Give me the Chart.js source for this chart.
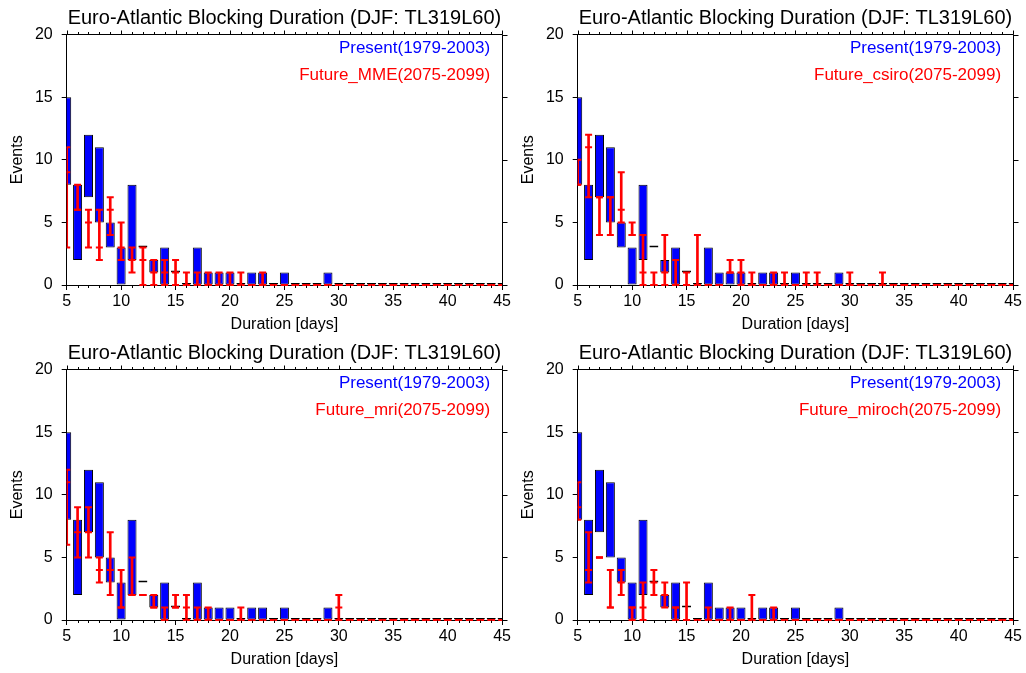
<!DOCTYPE html>
<html>
<head>
<meta charset="utf-8">
<script src="https://cdn.jsdelivr.net/npm/chart.js@4.4.1/dist/chart.umd.min.js"></script>
<style>
  body { margin: 0; background: #fff; }
  #wrap { position: relative; width: 1026px; height: 673px; }
  canvas { position: absolute; }
</style>
</head>
<body>
<div id="wrap">
  <canvas id="p1" width="513" height="336" style="left:0;top:0"></canvas>
  <canvas id="p2" width="513" height="336" style="left:511px;top:0"></canvas>
  <canvas id="p3" width="513" height="336" style="left:0;top:335px"></canvas>
  <canvas id="p4" width="513" height="336" style="left:511px;top:335px"></canvas>
</div>
<script>
// durations 5..45 days
const durations = [5,6,7,8,9,10,11,12,13,14,15,16,17,18,19,20,21,22,23,24,25,
                   26,27,28,29,30,31,32,33,34,35,36,37,38,39,40,41,42,43,44,45];
const xTicks = [5,10,15,20,25,30,35,40,45];
const yTicks = [0,5,10,15,20];

// present (1979-2003) range, blue floating bars
const presentLo = [8,2,7,5,3,0,2,3,1,0,1, 0,0,0,0,0,0,0,0,0,0,0,0,0,0,0,0,0,0,0,0,0,0,0,0,0,0,0,0,0,0];
const presentHi = [15,8,12,11,5,3,8,3,2,3,1,0,3,1,1,1,0,1,1,0,1,0,0,0,1, 0,0,0,0,0,0,0,0,0,0,0,0,0,0,0,0];

// future (2075-2099) ranges + centre mark, red error bars
const mmeLo  = [3,6,3,2,4,2,1, 0,0,0,0,0,0,0,0,0,0,0,0,0,0,0,0,0,0,0,0,0,0,0,0,0,0,0,0,0,0,0,0,0,0];
const mmeHi  = [11,8,6,6,7,5,3,3,2,2,2,1,1,1,1,1,1,0,1, 0,0,0,0,0,0,0,0,0,0,0,0,0,0,0,0,0,0,0,0,0,0];
const mmeMid = [9,6,5,3,6,3,2,2,1,1,1, 0,0,0,0,0,0,0,0,0,0,0,0,0,0,0,0,0,0,0,0,0,0,0,0,0,0,0,0,0,0];

const csiroLo  = [8,7,4,4,5,4,0,0,0,0,0,0,0,0,1, 0,0,0,0,0,0,0,0,0,0,0,0,0,0,0,0,0,0,0,0,0,0,0,0,0,0];
const csiroHi  = [10,12,7,7,9,5,4,1,4,2,1,4,0,0,2,2,1,0,1,1,0,1,1,0,0,1,0,0,1, 0,0,0,0,0,0,0,0,0,0,0,0];
const csiroMid = [8,11,7,7,6,4,1,0,1,0,0,0,0,0,1,1, 0,0,0,0,0,0,0,0,0,0,0,0,0,0,0,0,0,0,0,0,0,0,0,0,0];

const mriLo  = [6,5,5,3,2,1,2,2,1,0,1, 0,0,0,0,0,0,0,0,0,0,0,0,0,0,0,0,0,0,0,0,0,0,0,0,0,0,0,0,0,0];
const mriHi  = [12,9,9,5,7,4,5,2,2,1,2,2,1,1,0,0,1,0,0,0,0,0,0,0,0,2, 0,0,0,0,0,0,0,0,0,0,0,0,0,0,0];
const mriMid = [11,7,7,4,4,1,2,2,1,0,1,1, 0,0,0,0,0,0,0,0,0,0,0,0,0,1, 0,0,0,0,0,0,0,0,0,0,0,0,0,0,0];

const mirochLo  = [8,3,5,1,2,0,0,2,1, 0,0,0,0,0,0,0,0,0,0,0,0,0,0,0,0,0,0,0,0,0,0,0,0,0,0,0,0,0,0,0,0];
const mirochHi  = [11,7,5,4,4,1,3,4,3,1,3,0,1,0,1,0,2,0,1, 0,0,0,0,0,0,0,0,0,0,0,0,0,0,0,0,0,0,0,0,0,0];
const mirochMid = [9,4,5,1,3,1,1,3,2,1, 0,0,0,0,0,0,0,0,0,0,0,0,0,0,0,0,0,0,0,0,0,0,0,0,0,0,0,0,0,0,0];

const titleText = 'Euro-Atlantic Blocking Duration (DJF: TL319L60)';
const presentLabel = 'Present(1979-2003)';

const FONT = '"Liberation Sans", Arial, Helvetica, sans-serif';
const BLUE = '#0000ff';
const RED = '#ff0000';

Chart.defaults.font.family = FONT;
Chart.defaults.color = '#000';

// title and the two coloured legend lines
const panelText = {
  id: 'panelText',
  afterDraw(chart, args, opts) {
    const ctx = chart.ctx;
    const a = chart.chartArea;
    ctx.save();
    ctx.textBaseline = 'alphabetic';
    ctx.fillStyle = '#000';
    ctx.font = '20px ' + FONT;
    ctx.textAlign = 'center';
    ctx.fillText(titleText, (a.left + a.right) / 2, 24);
    ctx.font = '17px ' + FONT;
    ctx.textAlign = 'right';
    ctx.fillStyle = BLUE;
    ctx.fillText(presentLabel, a.right - 12, 52.5);
    ctx.fillStyle = RED;
    ctx.fillText(opts.future, a.right - 12, 79.5);
    ctx.restore();
  }
};

// top/right frame, minor ticks and mirrored ticks
const frame = {
  id: 'frame',
  afterDraw(chart) {
    const {ctx, chartArea: a, scales} = chart;
    const x = scales.x, y = scales.y;
    const top = Math.floor(a.top) + 0.5;
    const bottom = Math.floor(a.bottom) + 0.5;
    const right = Math.floor(a.right) + 0.5;
    ctx.save();
    ctx.strokeStyle = '#000';
    ctx.lineWidth = 1;
    ctx.beginPath();
    ctx.moveTo(a.left, top);
    ctx.lineTo(right, top);
    ctx.lineTo(right, bottom);
    durations.forEach(d => {
      const px = Math.round(x.getPixelForValue(d)) + 0.5;
      const major = d % 5 === 0;
      ctx.moveTo(px, top);
      ctx.lineTo(px, top - (major ? 4 : 2.5));
      if (!major) {
        ctx.moveTo(px, bottom);
        ctx.lineTo(px, bottom + 2.5);
      }
    });
    yTicks.forEach(v => {
      const py = Math.round(y.getPixelForValue(v)) + 0.5;
      ctx.moveTo(right, py);
      ctx.lineTo(right + 5, py);
    });
    ctx.stroke();
    ctx.restore();
  }
};

function pts(arr) {
  return durations.map((d, i) => ({x: d, y: arr[i]}));
}
function ranges(lo, hi) {
  return durations.map((d, i) => ({x: d, y: [lo[i], hi[i]]}));
}

function makePanel(id, futureName, futLo, futHi, futMid) {
  const capStyle = {
    type: 'line',
    showLine: false,
    pointStyle: 'line',
    pointRadius: 3.5,
    pointHoverRadius: 3.5,
    pointBorderWidth: 2,
    pointBorderColor: RED,
    pointBackgroundColor: RED,
    order: 1,
    clip: {left: 0, right: 0, top: 4, bottom: 4}
  };
  return new Chart(document.getElementById(id), {
    type: 'bar',
    data: {
      datasets: [
        Object.assign({label: 'lo', data: pts(futLo)}, capStyle),
        Object.assign({label: 'hi', data: pts(futHi)}, capStyle),
        Object.assign({label: 'mid', data: pts(futMid)}, capStyle),
        {
          type: 'bar',
          label: futureName,
          data: ranges(futLo, futHi),
          backgroundColor: RED,
          borderWidth: 0,
          barThickness: 2,
          grouped: false,
          order: 2,
          clip: {left: 0, right: 0, top: 4, bottom: 4}
        },
        {
          type: 'bar',
          label: presentLabel,
          data: ranges(presentLo, presentHi),
          backgroundColor: BLUE,
          borderColor: '#000',
          borderWidth: 1,
          borderSkipped: false,
          categoryPercentage: 1,
          barPercentage: 0.83,
          minBarLength: 2,
          grouped: false,
          order: 3,
          clip: {left: 0, right: 0, top: 2, bottom: 2}
        }
      ]
    },
    options: {
      responsive: false,
      devicePixelRatio: 1,
      animation: false,
      events: [],
      layout: {padding: {left: 0, top: 34.5, right: 10.5, bottom: 0}},
      scales: {
        x: {
          type: 'linear',
          min: 5,
          max: 45,
          offset: false,
          afterBuildTicks: s => { s.ticks = xTicks.map(v => ({value: v})); },
          afterFit: s => { s.height = 51; },
          ticks: {font: {size: 16}, padding: 2, maxRotation: 0, autoSkip: false, color: '#000'},
          grid: {drawOnChartArea: false, drawTicks: true, tickLength: 5, tickColor: '#000', offset: false},
          border: {display: true, color: '#000', width: 1},
          title: {display: true, text: 'Duration [days]', font: {size: 16}, color: '#000', padding: {top: 0, bottom: 2}}
        },
        y: {
          type: 'linear',
          min: 0,
          max: 20,
          afterBuildTicks: s => { s.ticks = yTicks.map(v => ({value: v})); },
          afterFit: s => { s.width = 66.7; },
          ticks: {font: {size: 16}, padding: 9, color: '#000'},
          grid: {drawOnChartArea: false, drawTicks: true, tickLength: 5, tickColor: '#000'},
          border: {display: true, color: '#000', width: 1},
          title: {display: true, text: 'Events', font: {size: 16}, color: '#000', padding: {top: 8, bottom: 0}}
        }
      },
      plugins: {
        legend: {display: false},
        tooltip: {enabled: false},
        panelText: {future: futureName}
      }
    },
    plugins: [panelText, frame]
  });
}

makePanel('p1', 'Future_MME(2075-2099)', mmeLo, mmeHi, mmeMid);
makePanel('p2', 'Future_csiro(2075-2099)', csiroLo, csiroHi, csiroMid);
makePanel('p3', 'Future_mri(2075-2099)', mriLo, mriHi, mriMid);
makePanel('p4', 'Future_miroch(2075-2099)', mirochLo, mirochHi, mirochMid);
</script>
</body>
</html>
